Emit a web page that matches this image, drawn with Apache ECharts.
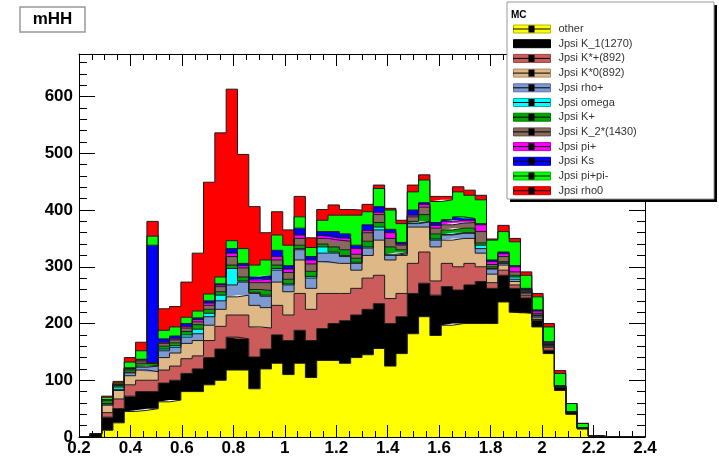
<!DOCTYPE html>
<html><head><meta charset="utf-8">
<script src="https://cdn.jsdelivr.net/npm/echarts/dist/echarts.min.js"></script>
<style>html,body{margin:0;padding:0;background:#fff}#c{width:719px;height:458px}</style>
</head><body><div id="c"></div>
<script>
// Histogram binning (50 bins from 0.2 to 2.4)
const xMin = 0.2, xMax = 2.4, nBins = 50;
const xTickLabels = ['0.2','0.4','0.6','0.8','1','1.2','1.4','1.6','1.8','2','2.2','2.4'];
const yTickLabels = ['0','100','200','300','400','500','600'];

const seriesNames = ['other','Jpsi K_1(1270)','Jpsi K*+(892)','Jpsi K*0(892)','Jpsi rho+','Jpsi omega','Jpsi K+','Jpsi K_2*(1430)','Jpsi pi+','Jpsi Ks','Jpsi pi+pi-','Jpsi rho0'];

const other   = [0,0,12,25,45,47,50,62,65,80,80,92,100,118,118,85,120,130,110,130,105,135,135,130,140,145,156,125,147,182,212,179,197,200,200,200,200,238,220,218,194,147,82,40,14,0,0,0,0,0];
const k1      = [0,6,23,25,27,33,30,33,35,32,40,48,55,58,55,56,35,50,60,58,65,56,65,75,75,80,79,75,65,71,59,71,68,59,68,74,62,47,42,27,11,6,5,4,2,2,0,0,0,0];
const kstPlus = [0,0,8,17,20,20,20,23,25,26,23,30,40,39,42,53,37,52,45,65,55,62,53,48,47,55,50,44,41,53,55,25,41,41,38,26,10,9,6,4,2,5,1,0,0,0,0,0,0,0];
const kst0    = [0,0,13,15,16,18,15,22,23,27,27,27,30,32,35,38,36,41,41,59,37,56,53,53,32,40,62,68,67,64,44,60,41,50,44,24,15,9,6,3,3,2,0,0,0,0,0,0,0,0];
const rhoPlus = [0,0,2,2,5,5,10,12,10,11,12,15,15,21,23,21,20,21,12,18,18,15,18,12,12,13,18,8,3,6,9,12,9,9,9,8,9,3,4,2,3,1,1,0,0,0,0,0,0,0];
const omega   = [0,0,1,4,1,2,1,3,3,4,8,6,10,29,2,2,2,3,2,2,3,11,2,2,2,2,5,2,2,1,1,2,1,1,1,6,1,1,4,1,1,1,0,0,0,0,0,0,0,0];
const kPlus   = [0,0,5,3,4,5,3,5,5,6,8,7,6,6,7,5,8,6,8,6,9,5,9,10,7,10,8,13,5,3,12,9,8,8,8,4,3,2,3,1,1,1,0,0,0,0,0,0,0,0];
const k2      = [0,0,2,1,2,4,1,5,5,6,5,7,9,15,16,12,14,9,12,12,13,10,12,15,7,15,14,15,8,8,13,10,9,9,10,20,4,9,6,2,3,2,1,0,0,0,0,0,0,0];
const piPlus  = [0,0,0,0,1,2,1,2,2,3,4,4,3,6,4,5,6,6,6,6,7,5,6,5,10,4,4,10,2,3,5,5,6,5,4,12,5,5,9,2,4,2,0,0,0,0,0,0,0,0];
const ks      = [0,0,0,1,1,1,207,6,5,5,3,4,2,8,4,5,6,11,6,12,6,7,9,8,6,10,10,6,3,9,3,5,3,6,3,2,3,3,2,2,2,1,0,0,0,0,0,0,0,0];
const pipi    = [0,0,4,2,10,15,16,15,16,11,12,12,12,14,26,21,28,27,36,20,16,20,29,33,53,23,32,34,33,32,40,37,35,44,41,42,35,36,42,23,23,26,22,15,8,0,0,0,0,0];
const rho0    = [0,0,2,3,8,15,26,38,36,62,102,197,254,267,166,103,48,41,27,36,17,19,18,10,9,13,6,3,6,12,9,9,6,9,9,8,2,11,6,6,6,6,5,0,0,0,0,0,0,0];

const seriesValues = [other,k1,kstPlus,kst0,rhoPlus,omega,kPlus,k2,piPlus,ks,pipi,rho0];

// styles
const fillColors   = ['#ffff00','#000000','#cc5c5c','#deb887','#7d99d1','#00ffff','#00a600','#876a5c','#ff00ff','#0000ff','#00ff00','#ff0000'];
const borderColors = ['#b8b800','#000000','#99453f','#a68a65','#5e739d','#00b0b0','#007d00','#655045','#bf00bf','#0000bf','#00bf00','#bf0000'];

const binWidth = (xMax - xMin) / nBins;
// bin edges used as categories of the (hidden) data axis
const binEdges = Array.from({length: nBins + 1}, (_, i) => (xMin + binWidth * i).toFixed(3));
function stepData(vals) { return vals.concat([0]); }

const series = [];
seriesValues.forEach((vals, i) => {
  series.push({
    name: seriesNames[i], type: 'line', step: 'end', stack: 'mc',
    xAxisIndex: 0, yAxisIndex: 0,
    data: stepData(vals), showSymbol: false, symbol: 'none',
    lineStyle: {width: 0, color: fillColors[i]},
    itemStyle: {color: fillColors[i]},
    areaStyle: {color: fillColors[i], opacity: 1},
    z: 2, silent: true
  });
});
seriesValues.forEach((vals, i) => {
  series.push({
    name: '_outline' + i, type: 'line', step: 'end', stack: 'outline',
    xAxisIndex: 0, yAxisIndex: 0,
    data: stepData(vals), showSymbol: false, symbol: 'none',
    lineStyle: {width: 1, color: '#1a1a1a'},
    z: 2.5, silent: true
  });
});

const font = "'Liberation Sans', Arial, Helvetica, sans-serif";
const legendTop = 23.5, rowPitch = 14.7;

const graphics = [
  {type:'rect', shape:{x:20, y:7, width:65, height:25}, style:{fill:'#fff', stroke:'#999', lineWidth:1.5}, z:10},
  {type:'text', x:52.5, y:19.5, style:{text:'mHH', font:'bold 17px ' + font, fill:'#000', textAlign:'center', textVerticalAlign:'middle'}, z:11},
  {type:'rect', shape:{x:510, y:5, width:207, height:197}, style:{fill:'#000'}, z:3.1},
  {type:'rect', shape:{x:507, y:2, width:207, height:197}, style:{fill:'#fff', stroke:'#999', lineWidth:1}, z:3.2},
  {type:'text', x:511, y:15, style:{text:'MC', font:'bold 10px ' + font, fill:'#000', textVerticalAlign:'middle'}, z:11}
];
seriesNames.forEach((n, k) => {
  const cy = legendTop + 5.5 + rowPitch * k;
  graphics.push({type:'line', shape:{x1:513, y1:cy, x2:550, y2:cy}, style:{stroke:'#000', lineWidth:1}, z:11});
  graphics.push({type:'rect', shape:{x:528.5, y:cy - 3.5, width:6, height:7}, style:{fill:'#000'}, z:11});
});

const tickStyle = {color:'#000', width:1};
const gridRect = {left:79, right:74, top:54, bottom:21, containLabel:false, outerBoundsMode:'none'};
const frameAxisZ = 3;
const option = {
  animation: false,
  backgroundColor: '#fff',
  grid: [Object.assign({}, gridRect), Object.assign({}, gridRect)],
  xAxis: [
    {type:'category', gridIndex:0, data: binEdges, boundaryGap:false, show:false},
    {type:'value', gridIndex:1, min:xMin, max:xMax, interval:0.2, position:'bottom', z:frameAxisZ,
     axisLine:{show:true, onZero:false, lineStyle:{color:'#000', width:1}},
     axisTick:{show:true, inside:true, length:12, lineStyle:tickStyle},
     minorTick:{show:true, splitNumber:4, length:6, lineStyle:tickStyle},
     splitLine:{show:false}, minorSplitLine:{show:false},
     axisLabel:{show:true, margin:3, fontFamily:font, fontWeight:'bold', fontSize:17, color:'#000',
       formatter: (v) => { const i = Math.round((v - xMin) / 0.2); return xTickLabels[i] !== undefined ? xTickLabels[i] : ''; }}},
    {type:'value', gridIndex:1, min:xMin, max:xMax, interval:0.2, position:'top', z:frameAxisZ,
     axisLine:{show:true, onZero:false, lineStyle:{color:'#000', width:1}},
     axisTick:{show:true, inside:true, length:12, lineStyle:tickStyle},
     minorTick:{show:true, splitNumber:4, length:6, lineStyle:tickStyle},
     splitLine:{show:false}, axisLabel:{show:false}}
  ],
  yAxis: [
    {type:'value', gridIndex:0, min:0, max:675, show:false, splitLine:{show:false}},
    {type:'value', gridIndex:1, min:0, max:675, interval:100, position:'left', z:frameAxisZ,
     axisLine:{show:true, onZero:false, lineStyle:{color:'#000', width:1}},
     axisTick:{show:true, inside:true, length:16, lineStyle:tickStyle},
     minorTick:{show:true, splitNumber:5, length:8, lineStyle:tickStyle},
     splitLine:{show:false},
     axisLabel:{show:true, margin:6, showMaxLabel:false, fontFamily:font, fontWeight:'bold', fontSize:17, color:'#000',
       formatter: (v) => { const i = Math.round(v / 100); return (v % 100 === 0 && yTickLabels[i] !== undefined) ? yTickLabels[i] : ''; }}},
    {type:'value', gridIndex:1, min:0, max:675, interval:100, position:'right', z:frameAxisZ,
     axisLine:{show:true, onZero:false, lineStyle:{color:'#000', width:1}},
     axisTick:{show:true, inside:true, length:16, lineStyle:tickStyle},
     minorTick:{show:true, splitNumber:5, length:8, lineStyle:tickStyle},
     splitLine:{show:false}, axisLabel:{show:false}}
  ],
  legend: {
    orient:'vertical', left:513, top:legendTop, padding:0, itemWidth:37, itemHeight:8, itemGap:3.7,
    icon:'rect', selectedMode:false, z:4,
    textStyle:{fontFamily:font, fontSize:11, color:'#333', lineHeight:11, padding:[0,0,0,3]},
    data: seriesNames.map((n, i) => ({name:n, itemStyle:{color:fillColors[i], borderColor:borderColors[i], borderWidth:1}}))
  },
  graphic: graphics,
  series: series
};
const chart = echarts.init(document.getElementById('c'), null, {renderer:'canvas'});
chart.setOption(option);
</script></body></html>
